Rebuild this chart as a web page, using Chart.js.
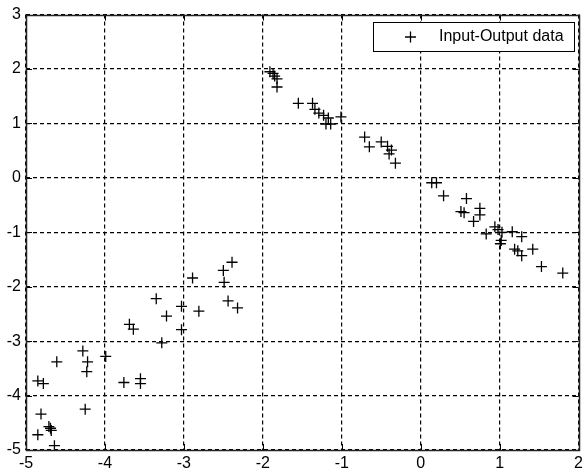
<!DOCTYPE html>
<html>
<head>
<meta charset="utf-8">
<script src="https://cdn.jsdelivr.net/npm/chart.js@4.4.0/dist/chart.umd.min.js"></script>
<style>
  html, body { margin: 0; padding: 0; background: #fff; }
  #wrap { width: 587px; height: 472px; }
</style>
</head>
<body>
<div id="wrap"><canvas id="plot"></canvas></div>
<script>
// input / output samples
const xData = [
    -1.91, -1.87, -1.85, -1.82, -1.82, -1.55, -1.37, -1.34, -1.29, -1.23, -1.17, -1.20, -1.14, -1.01,
    -0.71, -0.65, -0.50, -0.42, -0.37, -0.40, -0.32,
    0.14, 0.20, 0.29, 0.58, 0.51, 0.55, 0.75, 0.75, 0.67,
    0.83, 0.94, 0.98, 1.03, 1.02, 1.01, 1.16, 1.28, 1.19, 1.23, 1.28, 1.42, 1.53, 1.80,
    -2.39, -2.50, -2.49, -2.89, -3.35, -3.03, -3.22, -2.81, -2.44, -2.32, -3.03, -3.28,
    -3.69, -3.64, -4.28, -4.22, -4.23, -4.61, -3.99, -4.85, -4.78, -3.76, -3.55, -3.55,
    -4.25, -4.81, -4.71, -4.69, -4.68, -4.85, -4.64
];
const yData = [
    1.95, 1.92, 1.87, 1.82, 1.67, 1.37, 1.37, 1.26, 1.19, 1.15, 1.10, 0.99, 0.99, 1.12,
    0.75, 0.57, 0.66, 0.58, 0.51, 0.44, 0.27,
    -0.09, -0.09, -0.33, -0.38, -0.62, -0.64, -0.56, -0.68, -0.80,
    -1.03, -0.90, -0.95, -1.00, -1.15, -1.21, -0.99, -1.08, -1.31, -1.34, -1.43, -1.31, -1.63, -1.75,
    -1.55, -1.70, -1.92, -1.84, -2.22, -2.36, -2.54, -2.45, -2.26, -2.39, -2.79, -3.03,
    -2.69, -2.78, -3.18, -3.38, -3.56, -3.38, -3.28, -3.73, -3.78, -3.76, -3.69, -3.78,
    -4.25, -4.34, -4.57, -4.60, -4.64, -4.72, -4.92
];
const xRange = [-5, 2];
const yRange = [-5, 3];
const seriesName = 'Input-Output data';

const FONT = '"Liberation Sans", Arial, sans-serif';

// solid frame, inward tick marks and the boxed legend in the upper right
const frame = {
    id: 'frame',
    afterDraw(chart) {
        const { ctx, chartArea: a, scales } = chart;
        ctx.save();
        ctx.strokeStyle = '#000';
        ctx.lineWidth = 1;
        ctx.setLineDash([]);
        ctx.beginPath();
        scales.x.ticks.forEach(t => {
            const px = Math.round(scales.x.getPixelForValue(t.value)) + 0.5;
            ctx.moveTo(px, a.bottom); ctx.lineTo(px, a.bottom - 6);
            ctx.moveTo(px, a.top); ctx.lineTo(px, a.top + 6);
        });
        scales.y.ticks.forEach(t => {
            const py = Math.round(scales.y.getPixelForValue(t.value)) + 0.5;
            ctx.moveTo(a.left, py); ctx.lineTo(a.left + 6, py);
            ctx.moveTo(a.right, py); ctx.lineTo(a.right - 6, py);
        });
        ctx.stroke();

        ctx.lineWidth = 1.5;
        ctx.strokeStyle = '#222';
        ctx.strokeRect(Math.round(a.left) + 0.5, Math.round(a.top) + 0.5,
            Math.round(a.right - a.left), Math.round(a.bottom - a.top));

        // legend
        const lx = 373, ly = 22, lw = 201, lh = 29;
        ctx.fillStyle = '#fff';
        ctx.fillRect(lx, ly, lw, lh);
        ctx.lineWidth = 1;
        ctx.strokeStyle = '#000';
        ctx.strokeRect(lx + 0.5, ly + 0.5, lw, lh);
        const cy = ly + lh / 2 + 0.5;
        ctx.lineWidth = 1.3;
        ctx.beginPath();
        ctx.moveTo(405, cy); ctx.lineTo(416, cy);
        ctx.moveTo(410.5, cy - 5.5); ctx.lineTo(410.5, cy + 5.5);
        ctx.stroke();
        ctx.fillStyle = '#000';
        ctx.font = '16px ' + FONT;
        ctx.textBaseline = 'middle';
        ctx.textAlign = 'left';
        ctx.fillText(seriesName, 439, cy);
        ctx.restore();
    }
};

new Chart(document.getElementById('plot'), {
    type: 'scatter',
    data: {
        datasets: [{
            label: seriesName,
            data: xData.map((x, i) => ({ x: x, y: yData[i] })),
            pointStyle: 'cross',
            pointRadius: 5.5,
            pointBorderWidth: 1.3,
            borderColor: '#000',
            backgroundColor: '#000'
        }]
    },
    options: {
        responsive: true,
        maintainAspectRatio: false,
        animation: false,
        layout: { padding: { top: 13, right: 4, left: 0, bottom: 0 } },
        plugins: {
            legend: { display: false },
            tooltip: { enabled: false }
        },
        scales: {
            x: {
                type: 'linear',
                min: xRange[0],
                max: xRange[1],
                afterFit: s => { s.height = 22; },
                ticks: { stepSize: 1, color: '#000', font: { family: FONT, size: 16 }, padding: 4 },
                grid: { color: '#000', lineWidth: 1.2, drawTicks: false },
                border: { display: false, dash: [4, 3] }
            },
            y: {
                type: 'linear',
                min: yRange[0],
                max: yRange[1],
                afterFit: s => { s.width = 26; },
                ticks: { stepSize: 1, color: '#000', font: { family: FONT, size: 16 }, padding: 5 },
                grid: { color: '#000', lineWidth: 1.2, drawTicks: false },
                border: { display: false, dash: [4, 3] }
            }
        }
    },
    plugins: [frame]
});
</script>
</body>
</html>
